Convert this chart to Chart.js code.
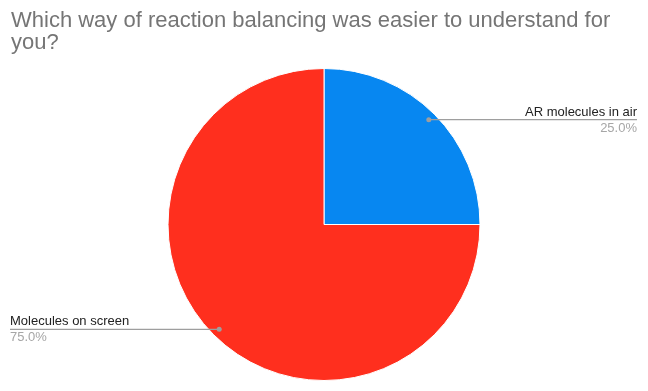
<!DOCTYPE html>
<html>
<head>
<meta charset="utf-8">
<script src="https://cdn.jsdelivr.net/npm/chart.js@4/dist/chart.umd.min.js"></script>
<style>
  html, body { margin: 0; padding: 0; background: #fff; }
  #wrap { width: 648px; height: 391px; }
</style>
</head>
<body>
<div id="wrap"><canvas id="pieChart"></canvas></div>
<script>
// Chart data
const titleLines = ["Which way of reaction balancing was easier to understand for", "you?"]
const categories = ["AR molecules in air", "Molecules on screen"]
const values = [25, 75]
const sliceColors = ["#0787f1", "#ff2f1e"]

const FONT = "'Liberation Sans', Arial, Helvetica, sans-serif"

// Leader lines + labels next to each slice
const leaderLabels = {
  id: "leaderLabels",
  afterDatasetsDraw(chart) {
    const ctx = chart.ctx
    const meta = chart.getDatasetMeta(0)
    const total = values.reduce((a, b) => a + b, 0)
    meta.data.forEach((arc, i) => {
      const p = arc.getProps(["x", "y", "startAngle", "endAngle", "outerRadius"], true)
      const mid = (p.startAngle + p.endAngle) / 2
      const px = p.x + Math.cos(mid) * p.outerRadius * 0.95
      const py = p.y + Math.sin(mid) * p.outerRadius * 0.95
      const right = Math.cos(mid) >= 0
      const endX = right ? chart.width - 11 : 10

      ctx.save()
      ctx.strokeStyle = "#9e9e9e"
      ctx.lineWidth = 1.2
      ctx.beginPath()
      ctx.moveTo(px, py)
      ctx.lineTo(endX, py)
      ctx.stroke()
      ctx.fillStyle = "#9e9e9e"
      ctx.beginPath()
      ctx.arc(px, py, 2.5, 0, Math.PI * 2)
      ctx.fill()

      ctx.textAlign = right ? "right" : "left"
      ctx.textBaseline = "alphabetic"
      ctx.font = "13px " + FONT
      ctx.fillStyle = "#222"
      ctx.fillText(categories[i], endX, py - 4)
      ctx.fillStyle = "#a6a6a6"
      ctx.fillText((values[i] / total * 100).toFixed(1) + "%", endX, py + 12)
      ctx.restore()
    })
  },
}

const ctx = document.getElementById("pieChart")
new Chart(ctx, {
  type: "pie",
  data: {
    labels: categories,
    datasets: [
      {
        data: values,
        backgroundColor: sliceColors,
        borderColor: "#ffffff",
        borderWidth: 1,
      },
    ],
  },
  options: {
    responsive: true,
    maintainAspectRatio: false,
    animation: false,
    layout: { padding: { left: 11, right: 11, top: 0, bottom: 10 } },
    plugins: {
      legend: { display: false },
      tooltip: { enabled: false },
      title: {
        display: true,
        text: titleLines,
        align: "start",
        color: "#757575",
        font: { size: 22, family: FONT, weight: "normal", lineHeight: 1.0 },
        padding: { top: 10, bottom: 14 },
      },
    },
  },
  plugins: [leaderLabels],
})
</script>
</body>
</html>
